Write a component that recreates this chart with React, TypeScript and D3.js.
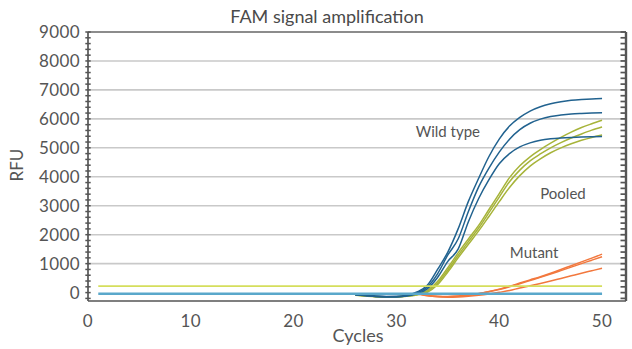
import React from "react";
import * as d3 from "d3";

// Amplification cycles sampled for the reaction curves
const curveCycles = [26, 27, 28, 29, 30, 31, 32, 33, 34, 35, 36, 37, 38, 39, 40, 41, 42, 43, 44, 45, 46, 47, 48, 49, 50];
const mutantCycles = [32, 33, 34, 35, 36, 37, 38, 39, 40, 41, 42, 43, 44, 45, 46, 47, 48, 49, 50];

// Wild type replicates (RFU)
const wildType1 = [-60, -90, -120, -135, -130, -90, 20, 250, 800, 1400, 2200, 3150, 3950, 4700, 5300, 5750, 6050, 6270, 6420, 6520, 6590, 6640, 6670, 6690, 6700];
const wildType2 = [-70, -100, -130, -145, -140, -105, -10, 190, 650, 1300, 1850, 2800, 3650, 4300, 4850, 5300, 5630, 5850, 5990, 6080, 6130, 6165, 6185, 6200, 6210];
const wildType3 = [-80, -110, -140, -155, -150, -120, -40, 130, 520, 1080, 1500, 2450, 3250, 3900, 4450, 4800, 5030, 5170, 5260, 5310, 5340, 5360, 5375, 5385, 5390];

// Pooled replicates (RFU)
const pooled1 = [-80, -110, -135, -145, -140, -115, -50, 70, 380, 860, 1370, 1850, 2320, 2870, 3420, 3970, 4380, 4690, 4940, 5160, 5360, 5540, 5700, 5830, 5950];
const pooled2 = [-85, -115, -140, -150, -145, -125, -65, 40, 320, 780, 1280, 1760, 2230, 2760, 3300, 3830, 4230, 4550, 4790, 5000, 5180, 5340, 5480, 5610, 5720];
const pooled3 = [-90, -120, -145, -155, -150, -130, -80, 10, 270, 710, 1200, 1670, 2130, 2630, 3140, 3630, 4040, 4370, 4620, 4830, 5000, 5140, 5260, 5360, 5440];

// Mutant replicates (RFU)
const mutant1 = [-30, -90, -125, -135, -120, -85, -30, 40, 120, 220, 330, 440, 550, 670, 800, 930, 1060, 1190, 1330];
const mutant2 = [-40, -100, -135, -145, -130, -95, -40, 30, 105, 200, 305, 415, 525, 640, 760, 880, 1000, 1120, 1240];
const mutant3 = [-50, -110, -145, -160, -150, -125, -90, -45, 10, 70, 160, 235, 315, 400, 490, 580, 670, 755, 840];

// Threshold / baseline lines
const thresholdCycles = [1, 50];
const thresholdYellow = 225;
const baselineBlue = -40;

const xTicks = [0, 10, 20, 30, 40, 50];
const yTicks = [0, 1000, 2000, 3000, 4000, 5000, 6000, 7000, 8000, 9000];
const gridValues = [1000, 2000, 3000, 4000, 5000, 6000, 7000, 8000];
const minorStep = 200;

const groupLabels = [
  { text: "Wild type", cycle: 35, value: 5380 },
  { text: "Pooled", cycle: 46.2, value: 3240 },
  { text: "Mutant", cycle: 43.4, value: 1200 },
];

const WIDTH = 632;
const HEIGHT = 349;
const FONT = "Lato, 'Open Sans', sans-serif";
const TEXT = "#555555";
const AXIS = "#555555";

const COLORS = {
  wild: "#21628f",
  pooled: "#a7b43a",
  mutant: "#f2783e",
  yellow: "#d5de5c",
  blue: "#5aa8cb",
  grid: "#c9c9c9",
};

export default function App() {
  const x = d3.scaleLinear().domain([0, 52.33]).range([88, 626]);
  const y = d3.scaleLinear().domain([-290, 9000]).range([301, 32]);

  const line = d3
    .line<[number, number]>()
    .x((d) => x(d[0]))
    .y((d) => y(d[1]))
    .curve(d3.curveMonotoneX);

  const path = (cycles: number[], values: number[]) =>
    line(cycles.map((c, i) => [c, values[i]] as [number, number])) || "";

  const minorTicks = d3.range(-200, 9001, minorStep);
  const [x0, x1] = x.range();
  const [yBottom, yTop] = y.range();

  const series = [
    { c: mutantCycles, v: mutant1, color: COLORS.mutant },
    { c: mutantCycles, v: mutant2, color: COLORS.mutant },
    { c: mutantCycles, v: mutant3, color: COLORS.mutant },
    { c: curveCycles, v: pooled1, color: COLORS.pooled },
    { c: curveCycles, v: pooled2, color: COLORS.pooled },
    { c: curveCycles, v: pooled3, color: COLORS.pooled },
    { c: curveCycles, v: wildType1, color: COLORS.wild },
    { c: curveCycles, v: wildType2, color: COLORS.wild },
    { c: curveCycles, v: wildType3, color: COLORS.wild },
  ];

  return (
    <svg
      width={WIDTH}
      height={HEIGHT}
      style={{ position: "absolute", left: 0, top: 0, background: "#fff" }}
      fontFamily={FONT}
    >
      {/* title */}
      <text x={327} y={23} textAnchor="middle" fontSize={18} fill="#4a4a4a">
        FAM signal amplification
      </text>

      {/* horizontal gridlines */}
      {gridValues.map((v) => (
        <line key={v} x1={x0} x2={x1} y1={y(v)} y2={y(v)} stroke={COLORS.grid} strokeWidth={1.6} />
      ))}

      {/* amplification curves */}
      {series.map((s, i) => (
        <path key={i} d={path(s.c, s.v)} fill="none" stroke={s.color} strokeWidth={1.5} />
      ))}

      {/* threshold lines */}
      <line
        x1={x(thresholdCycles[0])}
        x2={x(thresholdCycles[1])}
        y1={y(thresholdYellow)}
        y2={y(thresholdYellow)}
        stroke={COLORS.yellow}
        strokeWidth={1.6}
      />
      <line
        x1={x(thresholdCycles[0])}
        x2={x(thresholdCycles[1])}
        y1={y(baselineBlue)}
        y2={y(baselineBlue)}
        stroke={COLORS.blue}
        strokeWidth={2.6}
      />

      {/* frame */}
      <line x1={x0} x2={x1} y1={yTop} y2={yTop} stroke="#666" strokeWidth={1.3} />
      <line x1={x0} x2={x1} y1={yBottom} y2={yBottom} stroke={AXIS} strokeWidth={1.7} />
      <line x1={x0} x2={x0} y1={yTop} y2={yBottom} stroke={AXIS} strokeWidth={1.7} />
      <line x1={x1} x2={x1} y1={yTop} y2={yBottom} stroke={AXIS} strokeWidth={2.4} />

      {/* minor ticks, left axis crossing and right axis inward */}
      {minorTicks.map((v) => (
        <g key={v}>
          <line x1={x0 - 2.7} x2={x0 + 2.7} y1={y(v)} y2={y(v)} stroke={AXIS} strokeWidth={1.5} />
          <line x1={x1 - 5.5} x2={x1} y1={y(v)} y2={y(v)} stroke={AXIS} strokeWidth={1.7} />
        </g>
      ))}

      {/* y tick labels */}
      {yTicks.map((v) => (
        <text key={v} x={80} y={y(v)} dy="0.36em" textAnchor="end" fontSize={17} fill={TEXT} letterSpacing={0.4}>
          {v}
        </text>
      ))}

      {/* x tick labels */}
      {xTicks.map((c) => (
        <text key={c} x={x(c)} y={327} textAnchor="middle" fontSize={17} fill={TEXT} letterSpacing={0.4}>
          {c}
        </text>
      ))}

      {/* axis titles */}
      <text x={358} y={342} textAnchor="middle" fontSize={18} fill={TEXT}>
        Cycles
      </text>
      <text
        transform={`translate(23,165) rotate(-90)`}
        textAnchor="middle"
        fontSize={17}
        fill={TEXT}
      >
        RFU
      </text>

      {/* group annotations */}
      {groupLabels.map((g) => (
        <text key={g.text} x={x(g.cycle)} y={y(g.value)} textAnchor="middle" fontSize={15} fill={TEXT}>
          {g.text}
        </text>
      ))}
    </svg>
  );
}
